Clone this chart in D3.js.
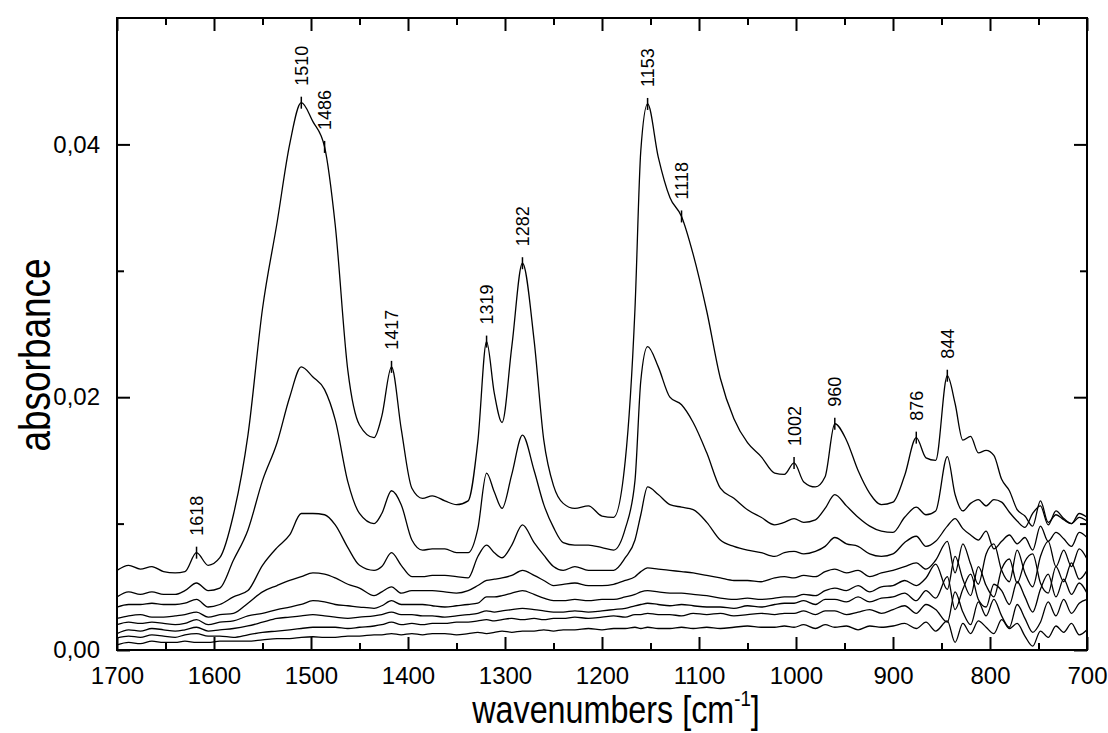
<!DOCTYPE html>
<html><head><meta charset="utf-8">
<script src="https://cdn.jsdelivr.net/npm/d3@7"></script>
<style>
body{margin:0;background:#fff}
svg{display:block}
text{font-family:"Liberation Sans",Arial,Helvetica,sans-serif;fill:#000}
</style>
</head><body>
<svg id="chart" width="1108" height="733"></svg>
<script>
// wavenumbers in cm^-1, absorbance values in units of 0.001
const wavenumbers = [
1700,1688,1676,1664,1652,1640,1630,1618,1606,1594,
1580,1565,1550,1535,1522,1510,1498,1486,1475,1462,
1450,1435,1427,1417,1407,1396,1385,1375,1362,1350,
1338,1328,1319,1311,1303,1293,1282,1270,1260,1250,
1240,1228,1214,1200,1188,1176,1166,1160,1153,1142,
1130,1118,1106,1092,1078,1064,1050,1036,1022,1012,
1002,992,980,970,960,948,936,924,912,900,
888,876,866,856,844,836,828,820,812,804,
796,788,780,772,764,756,748,740,732,724,
716,708,700];

const spectrum1 = [
6.3,6.7,6.4,6.6,6.2,6.1,6.2,7.7,6.7,7.3,
10.7,17.0,27.0,33.8,40.0,43.3,41.8,39.8,33.6,22.1,
17.8,16.8,18.5,22.4,17.5,12.8,12.0,12.2,11.8,11.5,
11.8,16.5,24.4,20.3,18.0,24.0,30.6,24.5,16.6,13.0,
11.6,11.2,11.4,10.6,10.5,15.0,27.0,39.5,43.2,39.0,
35.8,34.3,31.3,26.8,21.5,18.3,16.4,15.3,14.0,13.9,
14.8,13.3,12.9,13.7,17.9,16.6,14.2,12.4,11.5,11.7,
13.8,16.8,15.2,15.0,21.7,19.5,16.6,16.9,15.6,15.8,
15.4,13.5,12.6,11.1,10.6,9.8,11.8,10.1,10.7,10.3,
10.0,10.5,10.2];

const spectrum2 = [
4.2,4.6,4.4,4.6,4.4,4.4,4.7,5.3,4.7,4.9,
7.1,9.5,13.4,16.4,20.0,22.4,21.6,20.6,18.2,13.3,
10.8,10.0,10.8,12.6,11.5,8.7,7.9,8.0,8.0,7.7,
7.7,9.6,14.0,12.5,11.2,13.9,17.0,14.2,11.5,9.7,
8.5,8.3,8.3,8.1,7.9,9.6,13.4,21.3,24.0,22.4,
20.0,19.4,18.0,15.6,12.8,12.0,11.1,10.5,9.9,10.1,
10.4,10.1,10.3,11.2,12.3,11.4,10.5,9.8,9.4,9.3,
10.5,11.3,10.7,11.0,15.3,12.3,11.0,11.6,11.9,11.4,
11.9,11.7,10.9,10.2,9.7,10.8,11.4,9.9,11.0,10.4,
10.0,10.8,10.5];

const spectrum3 = [
3.4,3.6,3.6,3.7,3.6,3.6,3.7,4.0,3.4,3.6,
4.2,4.7,6.7,8.1,9.1,10.8,10.8,10.7,9.9,8.1,
6.7,6.3,6.6,7.7,6.7,5.8,5.8,5.9,5.9,5.8,
5.7,7.4,8.3,7.7,7.3,8.3,9.9,8.5,7.5,6.6,
6.3,6.6,6.3,6.3,6.3,7.3,8.7,10.7,12.9,12.3,
11.5,11.3,11.1,10.1,8.7,8.2,7.9,7.7,7.4,7.7,
7.8,7.6,7.8,8.2,8.9,8.4,8.2,7.6,7.4,7.6,
8.5,9.0,8.2,8.6,9.8,10.4,9.6,9.1,8.7,9.4,
8.0,8.6,9.1,8.4,8.9,7.9,9.8,8.6,9.3,8.8,
8.2,9.3,8.9];

const spectrum4 = [
2.5,2.7,2.8,2.6,2.6,2.7,2.8,3.0,2.6,2.8,
2.9,3.7,4.6,5.1,5.5,5.8,6.1,6.0,5.7,5.2,
4.9,4.3,4.6,5.0,4.5,4.7,4.7,4.7,4.6,4.5,
4.7,5.1,5.5,5.6,5.7,5.9,6.3,5.9,5.5,5.1,
5.2,5.3,5.1,5.1,5.2,5.5,5.8,6.2,6.5,6.4,
6.3,6.2,6.1,5.9,5.7,5.5,5.5,5.4,5.7,5.8,
5.7,5.9,5.8,6.2,6.4,6.1,6.3,5.8,6.1,6.3,
6.6,6.9,6.4,7.1,8.6,6.1,8.4,6.8,5.2,7.6,
8.4,6.3,5.4,7.9,6.1,5.0,7.4,8.6,6.6,7.9,
6.6,8.0,7.2];

const spectrum5 = [
2.0,2.2,2.1,2.2,2.1,2.0,2.1,2.4,2.0,2.2,
2.3,2.7,2.9,3.2,3.4,3.6,3.9,3.8,3.6,3.5,
3.4,3.3,3.5,3.9,3.6,3.6,3.6,3.5,3.4,3.5,
3.6,3.7,4.2,4.2,4.3,4.5,4.7,4.4,4.1,3.9,
3.9,4.0,3.9,4.0,4.0,4.2,4.4,4.6,4.7,4.6,
4.5,4.5,4.4,4.3,4.1,4.0,4.1,4.0,4.1,4.2,
4.2,4.4,4.3,4.7,4.9,4.7,5.1,4.6,5.0,5.1,
5.5,5.1,5.7,6.8,4.8,7.4,5.6,4.3,6.6,5.1,
4.2,6.4,7.2,5.3,7.0,7.6,5.3,4.5,6.6,5.4,
6.9,5.6,6.3];

const spectrum6 = [
1.3,1.6,1.5,1.7,1.6,1.5,1.6,1.8,1.5,1.6,
1.7,1.9,2.2,2.5,2.6,2.7,2.8,2.7,2.6,2.5,
2.6,2.7,2.8,3.0,2.8,2.8,2.7,2.7,2.6,2.7,
2.8,2.9,3.1,3.0,3.1,3.2,3.3,3.2,3.1,3.0,
3.0,3.1,3.0,3.1,3.2,3.3,3.5,3.6,3.7,3.6,
3.5,3.6,3.5,3.4,3.4,3.3,3.5,3.4,3.6,3.7,
3.7,3.9,3.6,4.0,4.0,3.8,4.2,3.8,4.1,4.2,
4.5,3.9,4.7,4.1,5.8,3.2,4.8,6.0,4.0,3.4,
5.2,4.7,3.6,5.4,4.2,3.0,4.8,6.0,4.2,5.6,
4.4,5.3,4.5];

const spectrum7 = [
0.95,1.1,1.0,1.2,1.1,1.0,1.2,1.3,1.1,1.1,
1.0,1.2,1.4,1.5,1.6,1.7,1.8,1.8,1.8,1.7,
1.8,1.9,2.0,2.2,2.0,2.1,2.0,2.1,2.1,2.2,
2.2,2.3,2.4,2.3,2.4,2.5,2.4,2.5,2.4,2.5,
2.5,2.6,2.5,2.6,2.7,2.6,2.8,2.8,2.9,2.8,
2.8,2.7,2.9,2.8,2.9,2.7,2.8,2.9,2.8,2.9,
2.9,3.1,2.8,3.1,3.1,2.8,3.0,3.2,2.9,3.2,
3.5,2.9,3.6,3.2,2.2,4.6,3.0,2.0,3.8,2.7,
4.0,2.7,1.8,3.6,2.5,1.4,2.2,3.8,2.7,4.0,
2.9,3.7,4.0];

const spectrum8 = [
0.4,0.6,0.5,0.7,0.6,0.6,0.7,0.6,0.6,0.7,
0.7,0.7,0.8,0.9,0.9,1.0,1.05,1.0,1.0,1.1,
1.1,1.2,1.2,1.3,1.2,1.3,1.2,1.3,1.3,1.2,
1.3,1.4,1.3,1.4,1.5,1.4,1.5,1.5,1.6,1.5,
1.6,1.6,1.7,1.6,1.7,1.7,1.8,1.7,1.8,1.7,
1.7,1.8,1.7,1.8,1.7,1.8,1.9,1.8,1.8,1.9,
1.8,2.0,1.7,2.0,1.8,1.9,1.6,1.9,1.8,1.9,
2.1,1.7,2.2,1.5,2.3,0.6,2.1,1.3,2.3,1.8,
1.3,2.4,1.7,2.1,1.1,0.3,1.5,1.0,1.9,1.4,
2.1,1.2,1.6];

const peakLabels = [1618,1510,1486,1417,1319,1282,1153,1118,1002,960,876,844];
const xMajorTicks = [1700,1600,1500,1400,1300,1200,1100,1000,900,800,700];
const xMinorTicks = [1650,1550,1450,1350,1250,1150,1050,950,850,750];
const yMajorTicks = [0,20,40];
const yMinorTicks = [10,30];
const yTickLabels = ["0,00","0,02","0,04"];

const series = [spectrum1,spectrum2,spectrum3,spectrum4,spectrum5,spectrum6,spectrum7,spectrum8];

const M = {left: 117, right: 1087, top: 18, bottom: 650};
const svg = d3.select("#chart");
const x = d3.scaleLinear().domain([1700,700]).range([M.left,M.right]);
const y = d3.scaleLinear().domain([0,50]).range([M.bottom,M.top]);

// curves
const line = d3.line()
  .defined(d => d[1] != null)
  .x(d => x(d[0])).y(d => y(d[1]))
  .curve(d3.curveMonotoneX);

const plot = svg.append("g");
series.forEach(s => {
  plot.append("path")
    .datum(wavenumbers.map((w,i) => [w, s[i]]))
    .attr("d", line)
    .attr("fill","none")
    .attr("stroke","#000")
    .attr("stroke-width",1.3)
    .attr("stroke-linejoin","round");
});

// axes
function styleAxis(g){
  g.select(".domain").remove();
  g.selectAll(".tick line").attr("stroke","#000").attr("stroke-width",2);
}
const majorLen = 13, minorLen = 7;
function styleLabels(g){
  g.selectAll("text").attr("font-size",24)
    .attr("font-family","'Liberation Sans',Arial,sans-serif").attr("fill","#000");
}

svg.append("g").attr("transform",`translate(0,${M.bottom})`)
  .call(d3.axisBottom(x).tickValues(xMajorTicks).tickFormat(d3.format("d")).tickSize(-majorLen).tickPadding(17))
  .call(styleAxis).call(styleLabels);
svg.append("g").attr("transform",`translate(0,${M.bottom})`)
  .call(d3.axisBottom(x).tickValues(xMinorTicks).tickFormat("").tickSize(-minorLen))
  .call(styleAxis);
svg.append("g").attr("transform",`translate(0,${M.top})`)
  .call(d3.axisTop(x).tickValues(xMajorTicks).tickFormat("").tickSize(-majorLen))
  .call(styleAxis);
svg.append("g").attr("transform",`translate(0,${M.top})`)
  .call(d3.axisTop(x).tickValues(xMinorTicks).tickFormat("").tickSize(-minorLen))
  .call(styleAxis);

svg.append("g").attr("transform",`translate(${M.left},0)`)
  .call(d3.axisLeft(y).tickValues(yMajorTicks).tickFormat((d,i) => yTickLabels[i]).tickSize(-majorLen).tickPadding(17))
  .call(styleAxis).call(styleLabels);
svg.append("g").attr("transform",`translate(${M.left},0)`)
  .call(d3.axisLeft(y).tickValues(yMinorTicks).tickFormat("").tickSize(-minorLen))
  .call(styleAxis);
svg.append("g").attr("transform",`translate(${M.right},0)`)
  .call(d3.axisRight(y).tickValues(yMajorTicks).tickFormat("").tickSize(-majorLen))
  .call(styleAxis);
svg.append("g").attr("transform",`translate(${M.right},0)`)
  .call(d3.axisRight(y).tickValues(yMinorTicks).tickFormat("").tickSize(-minorLen))
  .call(styleAxis);

// frame
svg.append("rect").attr("x",M.left).attr("y",M.top)
  .attr("width",M.right-M.left).attr("height",M.bottom-M.top)
  .attr("fill","none").attr("stroke","#000").attr("stroke-width",2);

// peak markers on the top spectrum
const peaks = peakLabels.map(w => [w, spectrum1[wavenumbers.indexOf(w)]]);
const pk = svg.append("g");
pk.selectAll("line").data(peaks).join("line")
  .attr("x1", d => x(d[0])).attr("x2", d => x(d[0]))
  .attr("y1", d => y(d[1]) - 6).attr("y2", d => y(d[1]) + 6)
  .attr("stroke","#000").attr("stroke-width",1.5);
pk.selectAll("text").data(peaks).join("text")
  .attr("transform", d => `translate(${x(d[0])},${y(d[1]) - 17}) rotate(-90)`)
  .attr("dy","0.36em")
  .attr("text-anchor","start")
  .attr("font-size",18)
  .text(d => d[0]);

// axis titles
const xt = svg.append("text")
  .attr("transform",`translate(${(M.left+M.right)/2 + 14},723) scale(0.85,1)`)
  .attr("text-anchor","middle")
  .attr("font-size",38);
xt.append("tspan").text("wavenumbers [cm");
xt.append("tspan").attr("font-size",22).attr("dy",-17).text("-1");
xt.append("tspan").attr("dy",17).text("]");

svg.append("text")
  .attr("transform","translate(50,355) rotate(-90) scale(0.84,1)")
  .attr("text-anchor","middle")
  .attr("font-size",44)
  .text("absorbance");
</script>
</body></html>
